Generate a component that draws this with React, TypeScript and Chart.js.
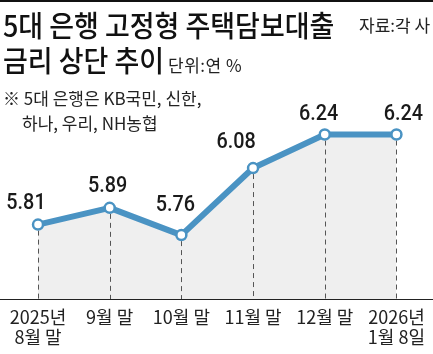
import React, { useEffect, useRef } from "react";
import { Chart, registerables } from "chart.js";

Chart.register(...registerables);

const categories: (string | string[])[] = [
  ["2025년", "8월 말"],
  "9월 말",
  "10월 말",
  "11월 말",
  "12월 말",
  ["2026년", "1월 8일"],
];
const rates: number[] = [5.81, 5.89, 5.76, 6.08, 6.24, 6.24];
const rateLabels: string[] = ["5.81", "5.89", "5.76", "6.08", "6.24", "6.24"];

const titleLine1 = "5대 은행 고정형 주택담보대출";
const titleLine2 = "금리 상단 추이";
const unitText = "단위:연 %";
const sourceText = "자료:각 사";
const noteLine1 = "※ 5대 은행은 KB국민, 신한,";
const noteLine2 = "하나, 우리, NH농협";

// label placement styling (pixel offsets relative to each point)
const labelDx = [-12, -2, -6, -17, -6, 7];
const labelDy = [-16, -16, -24, -20, -15, -15];

const LINE_COLOR = "#4a93c3";
const KR = "'Noto Sans CJK KR', 'Noto Sans', sans-serif";

const decorPlugin = {
  id: "decor",
  beforeDatasetsDraw(chart: any) {
    const { ctx, chartArea } = chart;
    const meta = chart.getDatasetMeta(0);
    ctx.save();
    ctx.strokeStyle = "#555";
    ctx.lineWidth = 1;
    ctx.setLineDash([5, 4]);
    meta.data.forEach((pt: any) => {
      const x = Math.round(pt.x) + 0.5;
      ctx.beginPath();
      ctx.moveTo(x, pt.y + 6);
      ctx.lineTo(x, chartArea.bottom);
      ctx.stroke();
    });
    ctx.restore();
  },
  afterDatasetsDraw(chart: any) {
    const { ctx } = chart;
    const meta = chart.getDatasetMeta(0);
    ctx.save();
    ctx.fillStyle = "#1a1a1a";
    ctx.font = "500 22px Roboto, 'Liberation Sans', sans-serif";
    ctx.textAlign = "center";
    ctx.textBaseline = "alphabetic";
    meta.data.forEach((pt: any, i: number) => {
      ctx.save();
      ctx.translate(pt.x + labelDx[i], pt.y + labelDy[i]);
      ctx.scale(0.9, 1);
      ctx.fillText(rateLabels[i], 0, 0);
      ctx.restore();
    });
    ctx.restore();
  },
  afterDraw(chart: any) {
    const { ctx, chartArea, width } = chart;
    ctx.save();
    ctx.strokeStyle = "#222";
    ctx.lineWidth = 1.2;
    ctx.beginPath();
    ctx.moveTo(0, chartArea.bottom + 0.5);
    ctx.lineTo(width, chartArea.bottom + 0.5);
    ctx.stroke();
    ctx.restore();
  },
};

function RateChart() {
  const ref = useRef<HTMLCanvasElement | null>(null);
  useEffect(() => {
    if (!ref.current) return;
    const chart = new Chart(ref.current, {
      type: "line",
      data: {
        labels: categories,
        datasets: [
          {
            data: rates,
            borderColor: LINE_COLOR,
            borderWidth: 6,
            backgroundColor: "#efefef",
            fill: "start",
            tension: 0,
            pointRadius: 5,
            pointBorderWidth: 2.5,
            pointBackgroundColor: "#ffffff",
            pointBorderColor: LINE_COLOR,
            borderJoinStyle: "round",
          },
        ],
      },
      options: {
        animation: false,
        responsive: false,
        devicePixelRatio: 1,
        layout: { padding: { left: 38, right: 32, top: 101, bottom: 5 } },
        plugins: {
          legend: { display: false },
          tooltip: { enabled: false },
          filler: { drawTime: "beforeDatasetsDraw" },
        },
        scales: {
          x: {
            grid: { display: false, drawTicks: false },
            border: { display: false },
            afterFit: (scale: any) => {
              scale.height = 50;
            },
            ticks: {
              color: "#222",
              padding: 8,
              maxRotation: 0,
              autoSkip: false,
              font: { family: KR, size: 18, lineHeight: 1.1 },
            },
          },
          y: {
            display: false,
            min: 5.455,
            max: 6.4,
          },
        },
      },
      plugins: [decorPlugin],
    });
    return () => chart.destroy();
  }, []);
  return <canvas ref={ref} width={433} height={354} style={{ position: "absolute", left: 0, top: 0 }} />;
}

export default function App() {
  const cond: React.CSSProperties = {
    position: "absolute",
    whiteSpace: "nowrap",
    fontFamily: KR,
    transformOrigin: "left top",
    lineHeight: 1,
    color: "#111",
  };
  return (
    <div style={{ position: "absolute", left: 0, top: 0, width: 433, height: 354, background: "#fff", overflow: "hidden" }}>
      <RateChart />
      <div style={{ position: "absolute", left: 0, top: 0, width: 433, height: 2, background: "#111" }} />
      <div style={{ ...cond, left: 3, top: 10, fontSize: 29, fontWeight: 500, transform: "scaleX(0.93)" }}>{titleLine1}</div>
      <div style={{ ...cond, left: 3, top: 45, fontSize: 29, fontWeight: 500, transform: "scaleX(0.93)" }}>{titleLine2}</div>
      <div style={{ ...cond, left: 168, top: 56, fontSize: 17, color: "#222", letterSpacing: 0.5 }}>{unitText}</div>
      <div style={{ ...cond, left: 359, top: 16, fontSize: 17, color: "#222" }}>{sourceText}</div>
      <div style={{ ...cond, left: 3, top: 89, fontSize: 17, color: "#222" }}>{noteLine1}</div>
      <div style={{ ...cond, left: 22, top: 114, fontSize: 17, color: "#222" }}>{noteLine2}</div>
    </div>
  );
}
